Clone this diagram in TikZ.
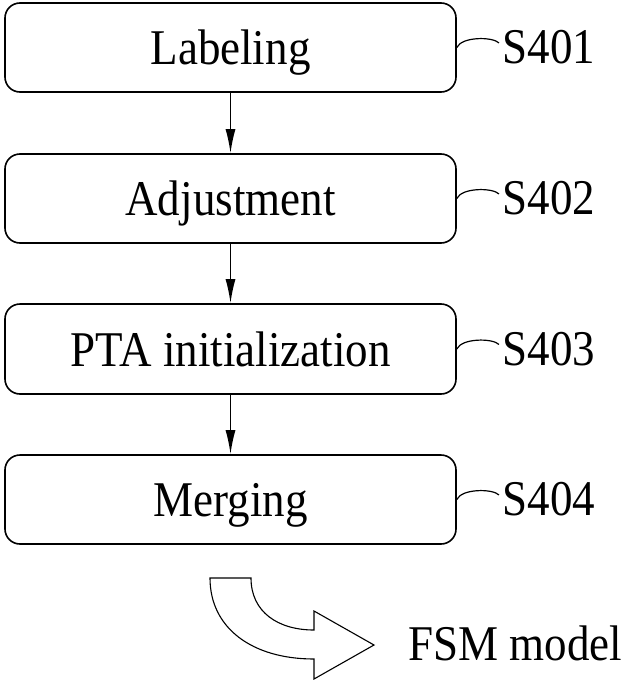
\documentclass[tikz,border=0pt]{standalone}
\usepackage{fontspec}
\setmainfont[FakeStretch=0.9]{Liberation Serif}
\usetikzlibrary{arrows.meta}

\tikzset{
  stepbox/.style={draw=black, line width=1.6pt, rounded corners=15pt,
    minimum width=451pt, inner sep=0pt,
    font=\fontsize{50}{60}\selectfont, text height=34pt, text depth=0pt},
  steplabel/.style={inner sep=0pt, font=\fontsize{50}{60}\selectfont,
    text height=34pt, text depth=0pt},
  flow/.style={draw=black, line width=1.4pt,
    -{Latex[length=24pt,width=10pt]}},
  tag/.style={draw=black, line width=1.2pt},
  bigarrow/.style={draw=black, line width=1.1pt, fill=white, line join=miter}
}

\begin{document}
\begin{tikzpicture}[x=1pt, y=-1pt]
  \useasboundingbox (0,0) rectangle (628,680);

  % process steps
  \node[stepbox, minimum height=89pt] (b1) at (230.5,47.5) {Labeling};
  \node[stepbox, minimum height=89pt] (b2) at (230.5,198.5) {Adjustment};
  \node[stepbox, minimum height=90pt] (b3) at (230.5,349) {PTA initialization};
  \node[stepbox, minimum height=89pt] (b4) at (230.5,499.5) {Merging};

  % step numbers
  \node[steplabel] (l1) at (549,46.5) {S401};
  \node[steplabel] (l2) at (549,197.5) {S402};
  \node[steplabel] (l3) at (549,348) {S403};
  \node[steplabel] (l4) at (549,498.5) {S404};

  % flow between steps
  \draw[flow] (b1.south) -- (b2.north);
  \draw[flow] (b2.south) -- (b3.north);
  \draw[flow] (b3.south) -- (b4.north);

  % leader curves from boxes to step numbers
  \foreach \i in {1,2,3,4}{
    \draw[tag, shorten >=5pt] (b\i.east) .. controls +(5,-11) and +(-10,-10) .. (l\i.west);
  }

  % result
  \node[anchor=base west, inner sep=0pt, font=\fontsize{50}{60}\selectfont]
    (fsm) at (408,660) {FSM model};

  % hollow curved arrow
  \draw[bigarrow] (210,578) -- (251,578)
    .. controls (251,612) and (278,630) .. (314,630)
    -- (314,611) -- (374,645) -- (314,679) -- (314,659)
    .. controls (252,659) and (210,628) .. (210,578) -- cycle;
\end{tikzpicture}
\end{document}
